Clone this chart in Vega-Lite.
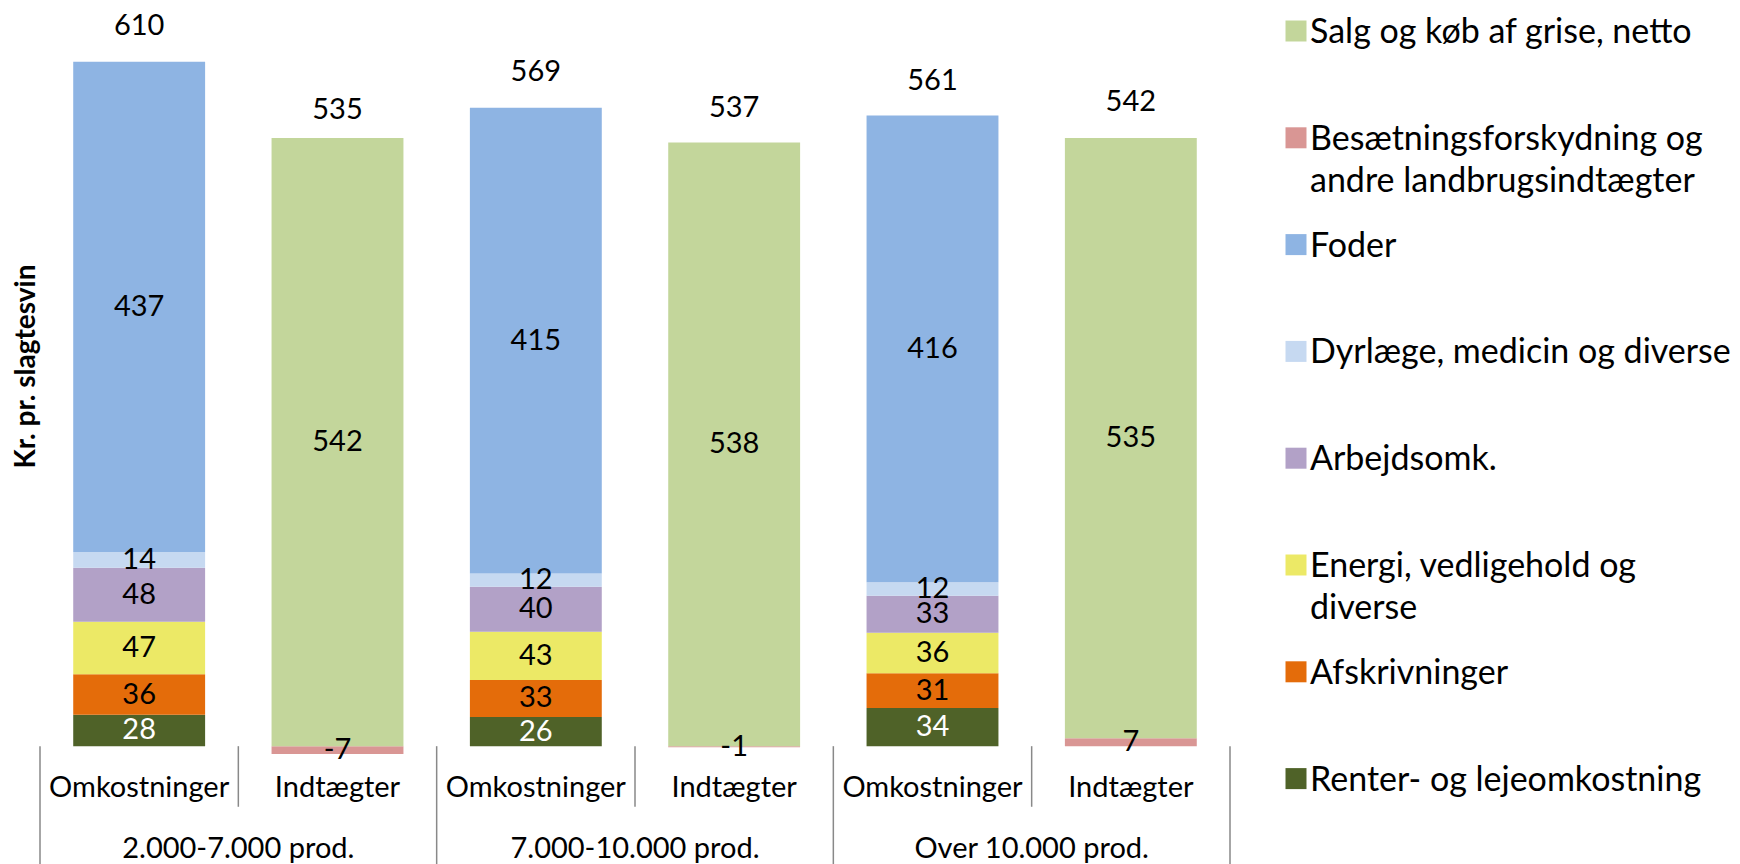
{
  "$schema": "https://vega.github.io/schema/vega-lite/v6.json",
  "width": 1190,
  "height": 864,
  "autosize": {"type": "none"},
  "padding": {"left": 40, "top": 0, "right": 510, "bottom": 0},
  "config": {"view": {"stroke": null}, "font": "Lato", "text": {"font": "Lato"}},
  "datasets": {
    "bars": [
      {"gruppe": "2.000-7.000 prod.", "type": "Omkostninger", "komponent": "Renter- og lejeomkostning", "value": 28},
      {"gruppe": "2.000-7.000 prod.", "type": "Omkostninger", "komponent": "Afskrivninger", "value": 36},
      {"gruppe": "2.000-7.000 prod.", "type": "Omkostninger", "komponent": "Energi, vedligehold og diverse", "value": 47},
      {"gruppe": "2.000-7.000 prod.", "type": "Omkostninger", "komponent": "Arbejdsomk.", "value": 48},
      {"gruppe": "2.000-7.000 prod.", "type": "Omkostninger", "komponent": "Dyrlæge, medicin og diverse", "value": 14},
      {"gruppe": "2.000-7.000 prod.", "type": "Omkostninger", "komponent": "Foder", "value": 437},
      {"gruppe": "2.000-7.000 prod.", "type": "Indtægter", "komponent": "Besætningsforskydning og andre landbrugsindtægter", "value": -7},
      {"gruppe": "2.000-7.000 prod.", "type": "Indtægter", "komponent": "Salg og køb af grise, netto", "value": 542},
      {"gruppe": "7.000-10.000 prod.", "type": "Omkostninger", "komponent": "Renter- og lejeomkostning", "value": 26},
      {"gruppe": "7.000-10.000 prod.", "type": "Omkostninger", "komponent": "Afskrivninger", "value": 33},
      {"gruppe": "7.000-10.000 prod.", "type": "Omkostninger", "komponent": "Energi, vedligehold og diverse", "value": 43},
      {"gruppe": "7.000-10.000 prod.", "type": "Omkostninger", "komponent": "Arbejdsomk.", "value": 40},
      {"gruppe": "7.000-10.000 prod.", "type": "Omkostninger", "komponent": "Dyrlæge, medicin og diverse", "value": 12},
      {"gruppe": "7.000-10.000 prod.", "type": "Omkostninger", "komponent": "Foder", "value": 415},
      {"gruppe": "7.000-10.000 prod.", "type": "Indtægter", "komponent": "Besætningsforskydning og andre landbrugsindtægter", "value": -1},
      {"gruppe": "7.000-10.000 prod.", "type": "Indtægter", "komponent": "Salg og køb af grise, netto", "value": 538},
      {"gruppe": "Over 10.000 prod.", "type": "Omkostninger", "komponent": "Renter- og lejeomkostning", "value": 34},
      {"gruppe": "Over 10.000 prod.", "type": "Omkostninger", "komponent": "Afskrivninger", "value": 31},
      {"gruppe": "Over 10.000 prod.", "type": "Omkostninger", "komponent": "Energi, vedligehold og diverse", "value": 36},
      {"gruppe": "Over 10.000 prod.", "type": "Omkostninger", "komponent": "Arbejdsomk.", "value": 33},
      {"gruppe": "Over 10.000 prod.", "type": "Omkostninger", "komponent": "Dyrlæge, medicin og diverse", "value": 12},
      {"gruppe": "Over 10.000 prod.", "type": "Omkostninger", "komponent": "Foder", "value": 416},
      {"gruppe": "Over 10.000 prod.", "type": "Indtægter", "komponent": "Besætningsforskydning og andre landbrugsindtægter", "value": 7},
      {"gruppe": "Over 10.000 prod.", "type": "Indtægter", "komponent": "Salg og køb af grise, netto", "value": 535}
    ],
    "totals": [
      {"gruppe": "2.000-7.000 prod.", "type": "Omkostninger", "total": 610},
      {"gruppe": "2.000-7.000 prod.", "type": "Indtægter", "total": 535},
      {"gruppe": "7.000-10.000 prod.", "type": "Omkostninger", "total": 569},
      {"gruppe": "7.000-10.000 prod.", "type": "Indtægter", "total": 537},
      {"gruppe": "Over 10.000 prod.", "type": "Omkostninger", "total": 561},
      {"gruppe": "Over 10.000 prod.", "type": "Indtægter", "total": 542}
    ],
    "groups": [
      {"gruppe": "2.000-7.000 prod."},
      {"gruppe": "7.000-10.000 prod."},
      {"gruppe": "Over 10.000 prod."}
    ]
  },
  "layer": [
    {
      "data": {"name": "bars"},
      "transform": [
        {"calculate": "datum.gruppe + ' ' + datum.type", "as": "bar"},
        {"calculate": "indexof(['Salg og køb af grise, netto','Besætningsforskydning og andre landbrugsindtægter','Foder','Dyrlæge, medicin og diverse','Arbejdsomk.','Energi, vedligehold og diverse','Afskrivninger','Renter- og lejeomkostning'], datum.komponent)", "as": "k"},
        {"stack": "value", "groupby": ["bar"], "sort": [{"field": "k", "order": "descending"}], "as": ["v0", "v1"], "offset": "zero"}
      ],
      "mark": {"type": "bar"},
      "encoding": {
        "x": {"field": "bar", "type": "nominal", "axis": null,
              "scale": {"type": "band", "paddingInner": 0.335, "paddingOuter": 0.1675,
                        "domain": ["2.000-7.000 prod. Omkostninger", "2.000-7.000 prod. Indtægter", "7.000-10.000 prod. Omkostninger", "7.000-10.000 prod. Indtægter", "Over 10.000 prod. Omkostninger", "Over 10.000 prod. Indtægter"]}},
        "y": {"field": "v0", "type": "quantitative",
              "scale": {"domain": [-105, 665], "nice": false, "zero": false},
              "axis": {"title": "Kr. pr. slagtesvin", "labels": false, "ticks": false, "domain": false, "grid": false,
                       "titleFont": "Lato", "titleFontWeight": "bold", "titleFontSize": 28, "titleColor": "#000000",
                       "titleX": -6, "titleY": 366, "titleAngle": -90, "titleBaseline": "alphabetic", "titleAlign": "center"}},
        "y2": {"field": "v1"},
        "color": {"field": "komponent", "type": "nominal",
                  "scale": {"domain": ["Salg og køb af grise, netto", "Besætningsforskydning og andre landbrugsindtægter", "Foder", "Dyrlæge, medicin og diverse", "Arbejdsomk.", "Energi, vedligehold og diverse", "Afskrivninger", "Renter- og lejeomkostning"],
                            "range": ["#C3D69B", "#D99694", "#8EB4E3", "#C6D9F1", "#B2A1C7", "#ECE966", "#E46C0A", "#4F6228"]},
                  "legend": {"orient": "none", "legendX": 1239, "legendY": 14, "title": null,
                             "symbolType": "square", "symbolSize": 441, "symbolStrokeWidth": 0,
                             "labelFont": "Lato", "labelFontSize": 34, "labelColor": "#000000", "labelLimit": 1000,
                             "labelOffset": -3, "rowPadding": 28.8, "gridAlign": "all", "padding": 0,
                             "labelExpr": "datum.label == 'Besætningsforskydning og andre landbrugsindtægter' ? ['Besætningsforskydning og', 'andre landbrugsindtægter'] : datum.label == 'Energi, vedligehold og diverse' ? ['Energi, vedligehold og', 'diverse'] : datum.label",
                             "labelBaseline": "alphabetic",
                             "encode": {"labels": {"update": {"dy": {"value": 12}, "lineHeight": {"value": 42}}}}}}
      }
    },
    {
      "data": {"name": "bars"},
      "transform": [
        {"calculate": "datum.gruppe + ' ' + datum.type", "as": "bar"},
        {"calculate": "indexof(['Salg og køb af grise, netto','Besætningsforskydning og andre landbrugsindtægter','Foder','Dyrlæge, medicin og diverse','Arbejdsomk.','Energi, vedligehold og diverse','Afskrivninger','Renter- og lejeomkostning'], datum.komponent)", "as": "k"},
        {"stack": "value", "groupby": ["bar"], "sort": [{"field": "k", "order": "descending"}], "as": ["v0", "v1"], "offset": "zero"},
        {"calculate": "(datum.v0 + datum.v1) / 2", "as": "mid"}
      ],
      "mark": {"type": "text", "fontSize": 29, "baseline": "middle", "align": "center"},
      "encoding": {
        "x": {"field": "bar", "type": "nominal", "axis": null,
              "scale": {"domain": ["2.000-7.000 prod. Omkostninger", "2.000-7.000 prod. Indtægter", "7.000-10.000 prod. Omkostninger", "7.000-10.000 prod. Indtægter", "Over 10.000 prod. Omkostninger", "Over 10.000 prod. Indtægter"]}},
        "y": {"field": "mid", "type": "quantitative", "scale": {"domain": [-105, 665], "nice": false, "zero": false}},
        "text": {"field": "value", "type": "nominal"},
        "color": {"condition": {"test": "datum.komponent === 'Renter- og lejeomkostning'", "value": "#ffffff"}, "value": "#000000"}
      }
    },
    {
      "data": {"name": "totals"},
      "transform": [{"calculate": "datum.gruppe + ' ' + datum.type", "as": "bar"}],
      "mark": {"type": "text", "fontSize": 29, "baseline": "middle", "align": "center", "dy": -36, "color": "#000000"},
      "encoding": {
        "x": {"field": "bar", "type": "nominal", "axis": null,
              "scale": {"domain": ["2.000-7.000 prod. Omkostninger", "2.000-7.000 prod. Indtægter", "7.000-10.000 prod. Omkostninger", "7.000-10.000 prod. Indtægter", "Over 10.000 prod. Omkostninger", "Over 10.000 prod. Indtægter"]}},
        "y": {"field": "total", "type": "quantitative", "scale": {"domain": [-105, 665], "nice": false, "zero": false}},
        "text": {"field": "total", "type": "nominal"}
      }
    },
    {
      "data": {"name": "totals"},
      "transform": [{"calculate": "datum.gruppe + ' ' + datum.type", "as": "bar"}],
      "mark": {"type": "text", "fontSize": 29, "baseline": "middle", "align": "center", "color": "#000000"},
      "encoding": {
        "x": {"field": "bar", "type": "nominal", "axis": null,
              "scale": {"domain": ["2.000-7.000 prod. Omkostninger", "2.000-7.000 prod. Indtægter", "7.000-10.000 prod. Omkostninger", "7.000-10.000 prod. Indtægter", "Over 10.000 prod. Omkostninger", "Over 10.000 prod. Indtægter"]}},
        "y": {"datum": -37.5, "type": "quantitative", "scale": {"domain": [-105, 665], "nice": false, "zero": false}},
        "text": {"field": "type", "type": "nominal"}
      }
    },
    {
      "data": {"name": "groups"},
      "mark": {"type": "text", "fontSize": 29, "baseline": "middle", "align": "center", "color": "#000000"},
      "encoding": {
        "x": {"field": "gruppe", "type": "nominal", "axis": null,
              "scale": {"domain": ["2.000-7.000 prod.", "7.000-10.000 prod.", "Over 10.000 prod."]}},
        "y": {"datum": -92, "type": "quantitative", "scale": {"domain": [-105, 665], "nice": false, "zero": false}},
        "text": {"field": "gruppe", "type": "nominal"}
      }
    },
    {
      "data": {"name": "groups"},
      "mark": {"type": "rule", "color": "#898989", "strokeWidth": 1.5},
      "encoding": {
        "x": {"field": "gruppe", "type": "nominal", "axis": null, "bandPosition": 0,
              "scale": {"type": "band", "paddingInner": 0, "paddingOuter": 0, "domain": ["2.000-7.000 prod.", "7.000-10.000 prod.", "Over 10.000 prod."]}},
        "y": {"datum": 0, "type": "quantitative", "scale": {"domain": [-105, 665], "nice": false, "zero": false}},
        "y2": {"datum": -106}
      }
    },
    {
      "data": {"name": "groups"},
      "transform": [{"filter": "datum.gruppe === 'Over 10.000 prod.'"}],
      "mark": {"type": "rule", "color": "#898989", "strokeWidth": 1.5},
      "encoding": {
        "x": {"field": "gruppe", "type": "nominal", "axis": null, "bandPosition": 1,
              "scale": {"type": "band", "paddingInner": 0, "paddingOuter": 0, "domain": ["2.000-7.000 prod.", "7.000-10.000 prod.", "Over 10.000 prod."]}},
        "y": {"datum": 0, "type": "quantitative", "scale": {"domain": [-105, 665], "nice": false, "zero": false}},
        "y2": {"datum": -106}
      }
    },
    {
      "data": {"name": "totals"},
      "transform": [
        {"calculate": "datum.gruppe + ' ' + datum.type", "as": "bar"},
        {"filter": "datum.type === 'Indtægter'"}
      ],
      "mark": {"type": "rule", "color": "#898989", "strokeWidth": 1.5},
      "encoding": {
        "x": {"field": "bar", "type": "nominal", "axis": null, "bandPosition": 0,
              "scale": {"type": "band", "paddingInner": 0, "paddingOuter": 0, "domain": ["2.000-7.000 prod. Omkostninger", "2.000-7.000 prod. Indtægter", "7.000-10.000 prod. Omkostninger", "7.000-10.000 prod. Indtægter", "Over 10.000 prod. Omkostninger", "Over 10.000 prod. Indtægter"]}},
        "y": {"datum": 0, "type": "quantitative", "scale": {"domain": [-105, 665], "nice": false, "zero": false}},
        "y2": {"datum": -54}
      }
    },
    {
      "mark": {"type": "rule", "color": "#898989", "strokeWidth": 1.5},
      "encoding": {
        "y": {"datum": 0, "type": "quantitative", "scale": {"domain": [-105, 665], "nice": false, "zero": false}}
      }
    }
  ],
  "resolve": {"scale": {"x": "independent"}}
}
